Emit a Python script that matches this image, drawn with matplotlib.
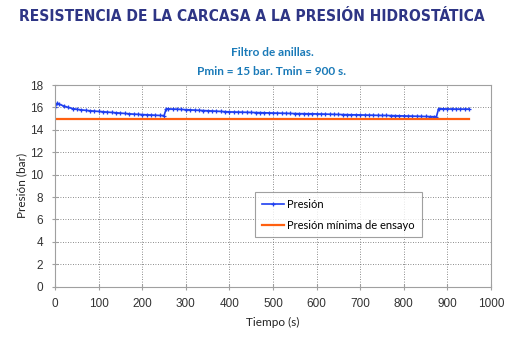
import numpy as np
import matplotlib.pyplot as plt

# data
tiempo = [0, 5, 10, 20, 30, 40, 50, 60, 70, 80, 90, 100, 110, 120, 130, 140, 150,
          160, 170, 180, 190, 200, 210, 220, 230, 240, 250,
          255, 260, 270, 280, 290, 300, 310, 320, 330, 340, 350, 360, 370, 380, 390,
          400, 410, 420, 430, 440, 450, 460, 470, 480, 490, 500, 510, 520, 530, 540,
          550, 560, 570, 580, 590, 600, 610, 620, 630, 640, 650, 660, 670, 680, 690,
          700, 710, 720, 730, 740, 750, 760, 770, 780, 790, 800, 810, 820, 830, 840,
          850, 860, 870, 875,
          880, 890, 900, 910, 920, 930, 940, 950]
presion = [16.05, 16.38, 16.28, 16.12, 16.0, 15.9, 15.83, 15.78, 15.74, 15.7, 15.67, 15.64,
           15.61, 15.58, 15.55, 15.52, 15.49, 15.46, 15.43, 15.4, 15.38, 15.36, 15.34,
           15.32, 15.3, 15.28, 15.27,
           15.88, 15.87, 15.85, 15.84, 15.82, 15.8, 15.78, 15.76, 15.74, 15.72, 15.7,
           15.68, 15.66, 15.64, 15.62, 15.6, 15.59, 15.58, 15.57, 15.56, 15.55, 15.54,
           15.53, 15.52, 15.51, 15.5, 15.49, 15.48, 15.47, 15.46, 15.45, 15.44, 15.44,
           15.43, 15.43, 15.42, 15.41, 15.4, 15.39, 15.38, 15.37, 15.36, 15.35, 15.34,
           15.34, 15.33, 15.32, 15.31, 15.3, 15.29, 15.28, 15.28, 15.27, 15.26, 15.25,
           15.24, 15.23, 15.22, 15.21, 15.2, 15.19, 15.18, 15.17, 15.16,
           15.88, 15.87, 15.86, 15.86, 15.85, 15.85, 15.85, 15.85]
t_min = [0, 950]
p_min = [15, 15]

plt.rcParams['font.family'] = ['Lato', 'DejaVu Sans']

fig = plt.figure(figsize=(5.2, 3.4), dpi=100)
ax = fig.add_axes([0.106, 0.157, 0.838, 0.593])

ax.plot(tiempo, presion, color='#1f3ff0', lw=1.2, marker='+', ms=3.5, mew=0.9,
        label='Presión')
ax.plot(t_min, p_min, color='#ff6010', lw=1.6, label='Presión mínima de ensayo')

ax.set_xlim(0, 1000)
ax.set_ylim(0, 18)
ax.set_xticks(np.arange(0, 1001, 100))
ax.set_yticks(np.arange(0, 19, 2))
ax.grid(True, ls=(0, (1, 2)), color='#666666', lw=0.6)
for s in ax.spines.values():
    s.set_color('#a0a0a0')
ax.tick_params(direction='inout', length=5, color='#a0a0a0', labelsize=8.5,
               labelcolor='#333333', pad=6)
for lab in ax.get_xticklabels() + ax.get_yticklabels():
    lab.set_family('Liberation Sans')

ax.set_xlabel('Tiempo (s)', fontsize=8.5, color='#222222', labelpad=5)
ax.set_ylabel('Presión (bar)', fontsize=8.5, color='#222222', labelpad=2)

leg = ax.legend(loc='upper left', bbox_to_anchor=(0.459, 0.47), borderaxespad=0,
                fontsize=8, frameon=True, fancybox=False, handlelength=2.0,
                handletextpad=0.3, borderpad=0.6, labelspacing=0.9)
leg.get_frame().set_edgecolor('#888888')
leg.get_frame().set_linewidth(0.8)

fig.text(0.037, 0.952, 'RESISTENCIA DE LA CARCASA A LA PRESIÓN HIDROSTÁTICA',
         fontsize=11.2, fontweight='bold', fontstretch='condensed',
         family=['DejaVu Sans'], color='#2e3585', va='center')
fig.text(0.523, 0.847, 'Filtro de anillas.', fontsize=8.5, fontweight='bold',
         color='#1a7ab8', ha='center', va='center')
fig.text(0.523, 0.79, 'Pmin = 15 bar. Tmin = 900 s.', fontsize=8.5, fontweight='bold',
         color='#1a7ab8', ha='center', va='center')

fig.savefig('out.png', dpi=100)
